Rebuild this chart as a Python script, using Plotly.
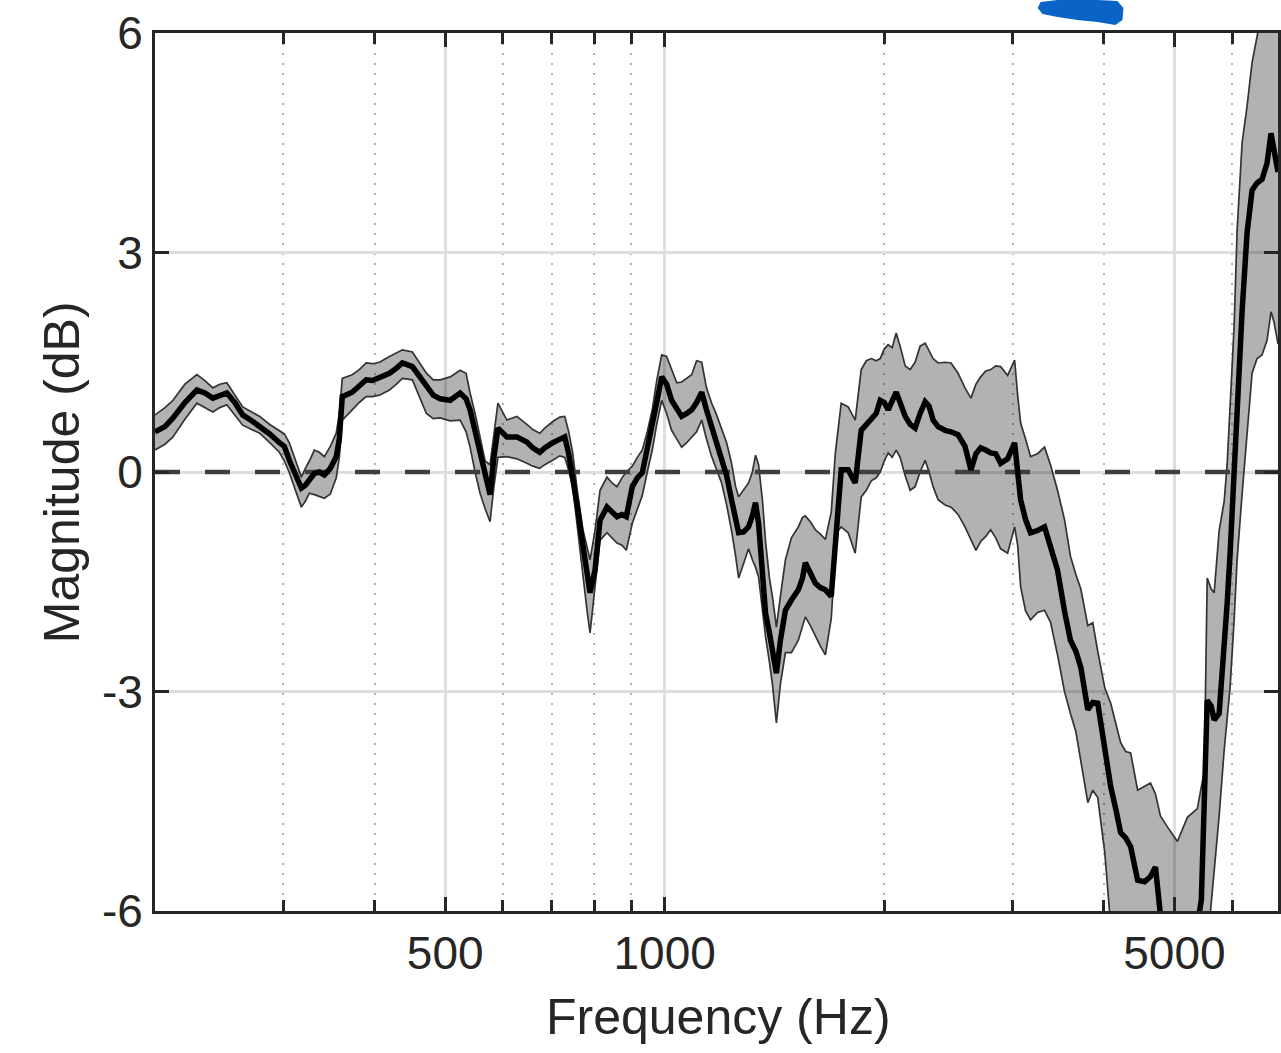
import math
import plotly.graph_objects as go

# ---- data ----
FREQ_HZ = [
    200.0, 206.4, 211.7, 219.8, 228.3, 234.1, 240.1, 245.4, 250.9, 257.3,
    263.8, 271.4, 278.4, 287.3, 296.2, 300.9, 305.7, 311.6, 317.5, 321.5,
    325.6, 330.8, 336.0, 341.4, 347.9, 354.5, 357.9, 361.3, 372.8, 381.2,
    389.6, 397.5, 406.4, 419.3, 428.7, 436.9, 450.8, 460.9, 471.2, 481.5,
    492.2, 507.9, 524.2, 534.1, 540.9, 549.5, 558.2, 567.1, 576.1, 583.2,
    590.6, 607.6, 627.0, 647.1, 659.4, 674.0, 684.7, 702.2, 717.9, 729.3,
    738.5, 747.9, 759.7, 772.8, 782.6, 790.0, 802.5, 815.3, 833.4, 846.7,
    860.1, 873.8, 885.9, 902.8, 917.2, 931.7, 946.5, 961.5, 975.1, 990.6,
    1006, 1022, 1039, 1055, 1072, 1089, 1106, 1124, 1141, 1160,
    1178, 1197, 1216, 1235, 1251, 1263, 1283, 1303, 1319, 1332,
    1345, 1362, 1375, 1392, 1405, 1423, 1441, 1464, 1492, 1525,
    1545, 1559, 1584, 1609, 1635, 1661, 1692, 1714, 1730, 1746,
    1785, 1825, 1860, 1890, 1920, 1950, 1975, 2000, 2025, 2051,
    2077, 2103, 2137, 2171, 2205, 2240, 2276, 2304, 2334, 2371,
    2424, 2470, 2525, 2581, 2630, 2672, 2712, 2756, 2799, 2844,
    2889, 2953, 3019, 3048, 3077, 3125, 3175, 3246, 3318, 3381,
    3457, 3534, 3601, 3663, 3721, 3804, 3864, 3925, 4013, 4089,
    4154, 4220, 4287, 4355, 4452, 4551, 4636, 4710, 4784, 4891,
    5048, 5209, 5376, 5444, 5495, 5546, 5616, 5669, 5759, 5851,
    5906, 5962, 6038, 6095, 6192, 6290, 6390, 6491, 6594, 6699,
    6784, 6848, 6935,
]

MEAN_DB = [
    0.55, 0.62, 0.74, 0.95, 1.12, 1.08, 1.01, 1.05, 1.08, 0.95,
    0.78, 0.70, 0.62, 0.52, 0.40, 0.35, 0.16, -0.05, -0.22, -0.18,
    -0.11, -0.02, 0.00, -0.04, 0.05, 0.21, 0.45, 1.03, 1.09, 1.18,
    1.26, 1.25, 1.29, 1.35, 1.42, 1.49, 1.44, 1.30, 1.16, 1.05,
    1.00, 0.98, 1.08, 1.00, 0.85, 0.55, 0.21, -0.05, -0.31, 0.20,
    0.60, 0.48, 0.48, 0.41, 0.33, 0.27, 0.33, 0.40, 0.44, 0.48,
    0.25, -0.07, -0.50, -1.02, -1.40, -1.65, -1.34, -0.66, -0.48, -0.55,
    -0.61, -0.58, -0.61, -0.20, -0.08, -0.01, 0.30, 0.62, 0.95, 1.30,
    1.20, 0.98, 0.85, 0.76, 0.80, 0.85, 0.95, 1.09, 0.85, 0.62,
    0.42, 0.21, -0.05, -0.38, -0.65, -0.83, -0.82, -0.75, -0.60, -0.42,
    -0.70, -1.40, -1.93, -2.20, -2.40, -2.75, -2.30, -1.89, -1.75, -1.61,
    -1.45, -1.24, -1.38, -1.52, -1.58, -1.61, -1.70, -0.90, -0.30, 0.03,
    0.03, -0.15, 0.57, 0.65, 0.74, 0.80, 0.98, 0.95, 0.85, 0.98,
    1.09, 0.95, 0.76, 0.65, 0.60, 0.80, 0.96, 0.90, 0.71, 0.62,
    0.57, 0.55, 0.51, 0.35, 0.03, 0.25, 0.33, 0.30, 0.26, 0.25,
    0.12, 0.18, 0.40, 0.00, -0.38, -0.65, -0.83, -0.80, -0.75, -1.02,
    -1.34, -1.90, -2.30, -2.45, -2.67, -3.25, -3.15, -3.16, -3.84, -4.30,
    -4.60, -4.93, -5.00, -5.12, -5.58, -5.60, -5.53, -5.40, -6.05, -6.40,
    -6.60, -6.50, -6.20, -5.85, -4.50, -3.12, -3.20, -3.39, -3.30, -2.47,
    -1.80, -1.11, 0.00, 1.10, 2.20, 3.27, 3.85, 3.95, 4.00, 4.22,
    4.63, 4.40, 4.10,
]

UPPER_DB = [
    0.78, 0.88, 0.98, 1.20, 1.33, 1.25, 1.15, 1.20, 1.22, 1.05,
    0.89, 0.82, 0.76, 0.65, 0.56, 0.52, 0.40, 0.15, -0.07, 0.05,
    0.15, 0.30, 0.27, 0.21, 0.35, 0.53, 0.80, 1.28, 1.33, 1.40,
    1.49, 1.48, 1.50, 1.58, 1.63, 1.67, 1.64, 1.50, 1.35, 1.26,
    1.26, 1.30, 1.39, 1.35, 1.08, 0.80, 0.48, 0.15, 0.10, 0.55,
    0.94, 0.71, 0.76, 0.65, 0.58, 0.53, 0.60, 0.69, 0.75, 0.76,
    0.55, 0.26, -0.30, -0.80, -1.05, -1.20, -0.80, -0.25, -0.07, -0.15,
    -0.20, -0.08, 0.00, 0.08, 0.20, 0.30, 0.55, 0.85, 1.25, 1.60,
    1.58, 1.40, 1.22, 1.23, 1.28, 1.33, 1.52, 1.50, 1.15, 0.94,
    0.78, 0.60, 0.40, 0.12, -0.20, -0.34, -0.25, -0.15, 0.00, 0.23,
    0.10, -0.40, -0.95, -1.45, -1.70, -2.12, -1.70, -1.20, -0.90, -0.75,
    -0.62, -0.60, -0.68, -0.79, -0.85, -0.92, -0.55, 0.26, 0.60, 0.94,
    0.89, 0.71, 1.40, 1.52, 1.55, 1.52, 1.55, 1.68, 1.74, 1.70,
    1.90, 1.72, 1.45, 1.40, 1.50, 1.72, 1.76, 1.65, 1.55, 1.49,
    1.50, 1.49, 1.35, 1.15, 1.01, 1.20, 1.30, 1.38, 1.40, 1.45,
    1.44, 1.32, 1.53, 1.05, 0.67, 0.45, 0.21, 0.25, 0.34, 0.10,
    -0.25, -0.65, -1.15, -1.40, -1.60, -2.10, -2.06, -2.45, -2.95, -3.16,
    -3.45, -3.70, -3.82, -3.84, -4.35, -4.30, -4.25, -4.40, -4.70, -4.85,
    -5.05, -4.72, -4.60, -4.30, -4.10, -1.45, -1.60, -1.65, -0.80, -0.40,
    0.10, 0.90, 2.00, 3.30, 4.50, 5.00, 5.60, 5.95, 6.30, 6.40,
    6.50, 6.50, 6.50,
]

LOWER_DB = [
    0.30, 0.38, 0.48, 0.72, 0.94, 0.88, 0.82, 0.88, 0.92, 0.78,
    0.64, 0.58, 0.53, 0.40, 0.27, 0.15, -0.01, -0.25, -0.48, -0.40,
    -0.29, -0.31, -0.34, -0.36, -0.30, -0.08, 0.20, 0.71, 0.85, 0.95,
    1.03, 1.03, 1.05, 1.12, 1.20, 1.28, 1.26, 1.02, 0.80, 0.73,
    0.74, 0.70, 0.71, 0.55, 0.34, 0.00, -0.29, -0.50, -0.68, -0.20,
    0.20, 0.21, 0.18, 0.12, 0.08, 0.05, 0.10, 0.16, 0.22, 0.20,
    0.02, -0.20, -0.80, -1.40, -1.90, -2.20, -1.60, -0.93, -0.83, -0.90,
    -0.97, -1.00, -1.07, -0.70, -0.52, -0.32, 0.00, 0.30, 0.65, 0.98,
    0.80, 0.57, 0.45, 0.34, 0.40, 0.48, 0.55, 0.71, 0.45, 0.21,
    0.02, -0.15, -0.45, -0.80, -1.15, -1.45, -1.25, -1.05, -1.20, -1.30,
    -1.43, -1.90, -2.25, -2.60, -2.90, -3.43, -2.90, -2.47, -2.47, -2.30,
    -2.10, -1.98, -2.10, -2.25, -2.38, -2.50, -2.00, -1.11, -0.80, -0.75,
    -0.83, -1.11, -0.34, -0.25, -0.12, -0.08, 0.00, 0.15, 0.26, 0.20,
    0.30, 0.20, -0.05, -0.25, -0.20, 0.00, 0.16, 0.00, -0.20, -0.38,
    -0.45, -0.48, -0.58, -0.75, -0.92, -1.07, -0.95, -0.88, -0.79, -0.90,
    -1.05, -1.11, -0.75, -1.00, -1.57, -1.90, -2.02, -1.92, -1.89, -2.05,
    -2.50, -3.00, -3.30, -3.55, -3.95, -4.52, -4.35, -4.45, -5.20, -6.20,
    -6.50, -6.60, -6.60, -6.70, -6.80, -6.90, -7.00, -7.00, -7.10, -7.20,
    -7.20, -7.20, -7.00, -6.90, -6.80, -6.50, -5.90, -5.48, -4.70, -3.80,
    -3.39, -2.94, -2.02, -1.20, -0.30, 0.50, 1.35, 1.55, 1.60, 1.80,
    2.19, 2.05, 1.75,
]

X_TICKS = [500, 1000, 5000]
X_TICK_TEXT = ["500", "1000", "5000"]
X_MINOR = [300, 400, 600, 700, 800, 900, 2000, 3000, 4000, 6000]
Y_TICKS = [-6, -3, 0, 3, 6]
Y_TICK_TEXT = ["-6", "-3", "0", "3", "6"]
X_RANGE = [200, 6935]
Y_RANGE = [-6, 6]
REF_DB = 0

FONT = "Liberation Sans, Arial, Helvetica, sans-serif"
INK = "#262626"

fig = go.Figure()

# shaded band (upper then lower filled to it)
fig.add_trace(go.Scatter(x=FREQ_HZ, y=UPPER_DB, mode="lines",
                         line=dict(color="#333333", width=1.7),
                         showlegend=False, hoverinfo="skip"))
fig.add_trace(go.Scatter(x=FREQ_HZ, y=LOWER_DB, mode="lines",
                         line=dict(color="#333333", width=1.7),
                         fill="tonexty", fillcolor="rgba(0,0,0,0.30)",
                         showlegend=False, hoverinfo="skip"))

# 0 dB reference line
fig.add_trace(go.Scatter(x=[X_RANGE[0], X_RANGE[1]], y=[REF_DB, REF_DB], mode="lines",
                         line=dict(color="#3f3f3f", width=4.5, dash="25px,25px"),
                         showlegend=False, hoverinfo="skip"))

# mean curve
fig.add_trace(go.Scatter(x=FREQ_HZ, y=MEAN_DB, mode="lines",
                         line=dict(color="#000000", width=5.5),
                         showlegend=False))

fig.update_layout(
    width=1281, height=1053,
    margin=dict(l=155, r=0, t=33, b=142),
    paper_bgcolor="white", plot_bgcolor="white",
    font=dict(family=FONT, color=INK),
    showlegend=False,
    xaxis=dict(
        type="log",
        range=[math.log10(X_RANGE[0]), math.log10(X_RANGE[1])],
        tickvals=X_TICKS, ticktext=X_TICK_TEXT,
        ticks="inside", ticklen=14, tickwidth=3, tickcolor=INK,
        tickfont=dict(size=46, family=FONT, color=INK),
        showgrid=True, gridcolor="#dedede", gridwidth=2.5,
        showline=True, linewidth=3, linecolor=INK, mirror="ticks",
        zeroline=False,
        minor=dict(tickvals=X_MINOR, ticks="inside", ticklen=11, tickwidth=2.5,
                   tickcolor=INK, showgrid=True, gridcolor="#b3b3b3",
                   gridwidth=2, griddash="2px,8px"),
    ),
    yaxis=dict(
        range=Y_RANGE,
        tickvals=Y_TICKS, ticktext=Y_TICK_TEXT,
        ticks="inside", ticklen=14, tickwidth=3, tickcolor=INK,
        tickfont=dict(size=46, family=FONT, color=INK),
        showgrid=True, gridcolor="#dedede", gridwidth=2.5,
        showline=True, linewidth=3, linecolor=INK, mirror="ticks",
        zeroline=False,
    ),
    annotations=[
        dict(text="Frequency (Hz)", xref="paper", yref="paper", x=0.502, y=-0.121,
             xanchor="center", yanchor="middle", showarrow=False,
             font=dict(size=50, family=FONT, color=INK)),
        dict(text="Magnitude (dB)", xref="paper", yref="paper", x=-0.0826, y=0.5,
             xanchor="center", yanchor="middle", textangle=-90, showarrow=False,
             font=dict(size=50, family=FONT, color=INK)),
    ],
    shapes=[
        dict(type="path", xref="paper", yref="paper", layer="above",
             path=("M 0.7886,1.0353 L 0.8037,1.0376 L 0.8393,1.0376 L 0.8570,1.0364 "
                   "L 0.8624,1.0285 L 0.8615,1.0148 L 0.8552,1.0091 L 0.8393,1.0125 "
                   "L 0.8215,1.0148 L 0.8037,1.0182 L 0.7904,1.0216 L 0.7860,1.0285 Z"),
             fillcolor="#0a64c8", line=dict(width=0)),
    ],
)

fig.write_html(
    "out.html",
    config={"displayModeBar": False},
    post_script="document.body.style.margin='0';document.body.style.overflow='hidden';",
)
